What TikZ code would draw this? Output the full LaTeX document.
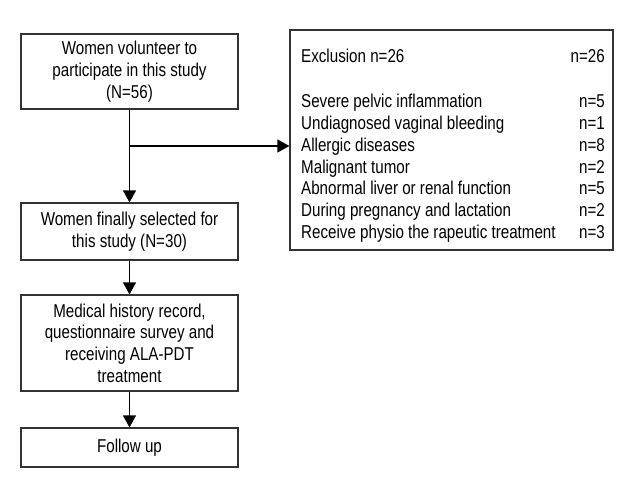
\documentclass[tikz,border=0pt]{standalone}
\usepackage{fontspec}
\setmainfont[FakeStretch=0.815]{Liberation Sans}
\usetikzlibrary{arrows.meta}

\begin{document}
\begin{tikzpicture}[x=1pt,y=-1pt,
  box/.style={draw=black!80, line width=1.2pt, align=center, inner sep=0pt,
    minimum width=217pt, font=\fontsize{18.6}{21.7}\selectfont},
  flow/.style={line width=1.2pt, -{Triangle[length=12pt,width=13pt]}},
  item/.style={anchor=base west, inner sep=0pt, font=\fontsize{18.6}{21.7}\selectfont},
  num/.style={anchor=base east, inner sep=0pt, font=\fontsize{18.6}{21.7}\selectfont}]
\useasboundingbox (0,0) rectangle (640,500);
% main column
\node[box, minimum height=75pt] (volunteer) at (129.5,71.5)
  {Women volunteer to\\participate in this study\\(N=56)};
\node[box, minimum height=57pt] (selected) at (129.5,231.5)
  {Women finally selected for\\this study (N=30)};
\node[box, minimum height=96pt] (record) at (129.5,343)
  {Medical history record,\\questionnaire survey and\\receiving ALA-PDT\\treatment};
\node[box, minimum height=39pt] (follow) at (129.5,447.5) {Follow up};
% exclusion box
\node[draw=black!80, line width=1.2pt, minimum width=323pt, minimum height=220pt,
  inner sep=0pt] (exclusion) at (451.5,140) {};
\node[item] (head) at (301,63) {Exclusion n=26};
\node[num] (headn) at (605,63) {n=26};
\foreach \txt/\n [count=\i] in {Severe pelvic inflammation/5,
  Undiagnosed vaginal bleeding/1, Allergic diseases/8, Malignant tumor/2,
  Abnormal liver or renal function/5, During pregnancy and lactation/2,
  Receive physio the rapeutic treatment/3}{
  \node[item] (cause\i) at (301,86.3+21.7*\i) {\txt};
  \node[num] (count\i) at (605,86.3+21.7*\i) {n=\n};
}
% arrows
\coordinate (split) at (volunteer.south |- 0,146);
\draw[flow] (volunteer) -- (selected);
\draw[flow] (split) -- (split -| exclusion.west);
\draw[flow] (selected) -- (record);
\draw[flow] (record) -- (follow);
\end{tikzpicture}
\end{document}
